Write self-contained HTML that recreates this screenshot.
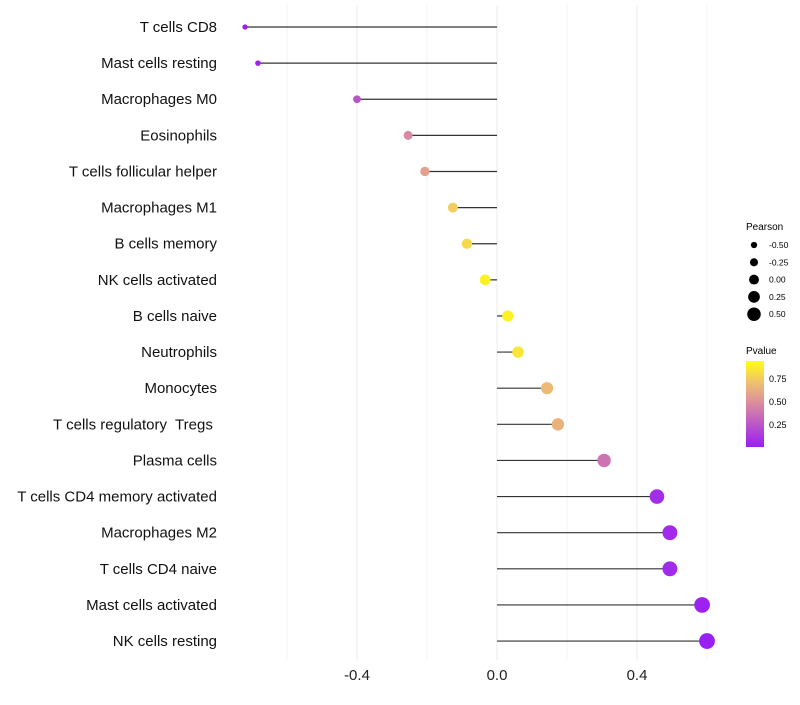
<!DOCTYPE html>
<html><head><meta charset="utf-8"><style>
body{margin:0;background:#fff;font-family:"Liberation Sans",sans-serif}
text{white-space:pre}
</style></head><body>
<svg id="chart" width="800" height="700" xmlns="http://www.w3.org/2000/svg">
<defs><linearGradient id="pg" x1="0" y1="1" x2="0" y2="0">
<stop offset="0" stop-color="#9a1df5"/><stop offset="0.5" stop-color="#d98aa0"/><stop offset="0.75" stop-color="#f0c070"/><stop offset="1" stop-color="#ffff10"/>
</linearGradient></defs>
<g id="grid"></g><g id="marks"></g><g id="labels"></g>
<g font-size="9" fill="#000">
<text x="746" y="230" font-size="10">Pearson</text>
<g id="sizeLegend"></g>
</g>
<g font-size="9">
<text x="746" y="354" font-size="10">Pvalue</text>
<rect x="746" y="361" width="18" height="86" fill="url(#pg)"/>
<text x="769" y="382">0.75</text><text x="769" y="405">0.50</text><text x="769" y="428">0.25</text>
</g>
</svg>
<script>
const categories=["T cells CD8","Mast cells resting","Macrophages M0","Eosinophils","T cells follicular helper","Macrophages M1","B cells memory","NK cells activated","B cells naive","Neutrophils","Monocytes","T cells regulatory  Tregs ","Plasma cells","T cells CD4 memory activated","Macrophages M2","T cells CD4 naive","Mast cells activated","NK cells resting"];
const pearson=[-0.72,-0.683,-0.40,-0.254,-0.206,-0.126,-0.086,-0.034,0.031,0.06,0.143,0.174,0.306,0.457,0.494,0.494,0.586,0.60];
const pvalue=[0.01,0.02,0.25,0.5,0.6,0.8,0.85,0.95,0.95,0.9,0.72,0.68,0.4,0.08,0.06,0.06,0.02,0.01];
const xTicks=[-0.4,0,0.4];
const xMinor=[-0.6,-0.2,0.2,0.6];
const sizeLegendVals=[-0.5,-0.25,0,0.25,0.5];
const NS="http://www.w3.org/2000/svg";
const x=v=>497+v*350;
const y=i=>27+i*36.12;
const r=v=>5.5+4*v;
function col(p){
  const s=[[0,[154,29,245]],[0.5,[217,138,160]],[0.75,[240,192,112]],[1,[255,255,16]]];
  let k=0;while(k<s.length-2&&p>s[k+1][0])k++;
  const a=s[k],b=s[k+1];
  const t=(p-a[0])/(b[0]-a[0]);
  return "rgb("+a[1].map((c,j)=>Math.round(c+(b[1][j]-c)*t)).join(",")+")";
}
function mk(tag,at,par){const e=document.createElementNS(NS,tag);for(const k in at)e.setAttribute(k,at[k]);document.getElementById(par).appendChild(e);return e;}
xMinor.forEach(v=>{const l=mk("line",{x1:x(v),x2:x(v),y1:5,y2:660,stroke:"#f3f3f3","stroke-width":1},"grid");

});
xTicks.forEach(v=>{const l=mk("line",{x1:x(v),x2:x(v),y1:5,y2:660,stroke:"#ebebeb","stroke-width":1},"grid");


const t=mk("text",{x:x(v),y:680,"text-anchor":"middle","font-size":15,fill:"#222"},"labels");t.textContent=v.toFixed(1);

});
categories.forEach((c,i)=>{
  const l=mk("line",{x1:x(0),x2:x(pearson[i]),y1:y(i),y2:y(i),stroke:"#333","stroke-width":1.2},"marks");
  
  
  const d=mk("circle",{cx:x(pearson[i]),cy:y(i),r:r(pearson[i]),fill:col(pvalue[i])},"marks");
  
  
  const t=mk("text",{x:217,y:y(i)+5,"text-anchor":"end","font-size":15,fill:"#111"},"labels");t.textContent=c;
  
  
});
sizeLegendVals.forEach((v,i)=>{const cy=245+i*17.3;
  const c=mk("circle",{cx:754,cy:cy,r:r(v)*0.9,fill:"#000"},"sizeLegend");
  
  
  const t=mk("text",{x:769,y:cy+3,"font-size":8.5},"sizeLegend");t.textContent=v.toFixed(2);
  
  });
</script>
</body></html>
